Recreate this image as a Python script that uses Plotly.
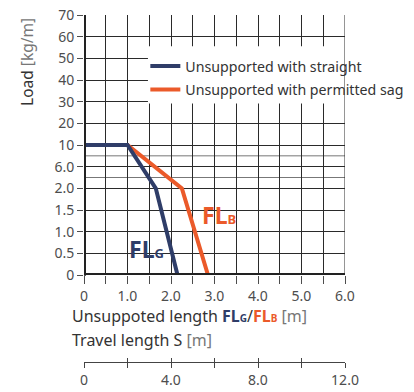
import plotly.graph_objects as go

NAVY = "#2f3d68"
ORANGE = "#eb5a2a"
GRID = "#2a2a2a"
TICK = "#4d4d4d"
TEXT = "#333333"
FONT = "Noto Sans"

# load categories (bottom to top), evenly spaced on the chart
load_cats = ["0", "0.5", "1.0", "1.5", "2.0", "6.0", "10", "20", "30", "40", "50", "60", "70"]

# unsupported length [m] vs load
straight_len = [0, 1.0, 1.65, 2.15]
straight_load = ["10", "10", "2.0", "0"]
sag_len = [0, 1.0, 2.25, 2.85]
sag_load = ["10", "10", "2.0", "0"]

len_ticks = [0, 0.5, 1.0, 1.5, 2.0, 2.5, 3.0, 3.5, 4.0, 4.5, 5.0, 5.5, 6.0]
len_labels = ["0", "", "1.0", "", "2.0", "", "3.0", "", "4.0", "", "5.0", "", "6.0"]
travel_ticks = [0, 2, 4, 6, 8, 10, 12]
travel_labels = ["0", "", "4.0", "", "8.0", "", "12.0"]

fig = go.Figure()
fig.add_trace(go.Scatter(x=sag_len, y=sag_load, mode="lines", name="Unsupported with permitted sag",
                         line=dict(color=ORANGE, width=4), legendrank=2, legendgroup="b"))
fig.add_trace(go.Scatter(x=straight_len, y=straight_load, mode="lines", name="Unsupported with straight",
                         line=dict(color=NAVY, width=4), legendrank=1, legendgroup="a"))
# invisible traces so the travel-length axes render
fig.add_trace(go.Scatter(x=[0, 12], y=[0, 0], xaxis="x2", yaxis="y2", mode="none",
                         showlegend=False, hoverinfo="skip"))
fig.add_trace(go.Scatter(x=[0, 12], y=[0, 0], xaxis="x3", yaxis="y2", mode="none",
                         showlegend=False, hoverinfo="skip"))

fig.update_layout(
    width=414, height=392,
    margin=dict(l=84, r=69, t=15, b=30, autoexpand=False),
    paper_bgcolor="white", plot_bgcolor="white",
    font=dict(family=FONT, color=TICK, size=14),
    showlegend=True,
    legend=dict(x=0.235, y=0.898, xanchor="left", yanchor="top", bgcolor="rgba(0,0,0,0)",
                font=dict(size=14.2, color=TEXT), traceorder="grouped", tracegroupgap=2,
                itemwidth=30),
    xaxis=dict(range=[0, 6], tickvals=len_ticks, ticktext=len_labels, showgrid=True,
               gridcolor=GRID, gridwidth=1, zeroline=False, showline=False, anchor="y",
               ticks="outside", ticklen=8, tickcolor=TICK, tickfont=dict(size=14, color=TICK)),
    yaxis=dict(type="category", categoryorder="array", categoryarray=load_cats,
               range=[0, 12], domain=[0.2507, 1], showgrid=True, gridcolor=GRID, gridwidth=1,
               showline=False, ticks="outside", ticklen=6, tickcolor=TICK,
               tickfont=dict(size=14, color=TICK)),
    yaxis2=dict(domain=[0, 0.01], range=[0, 1], visible=False),
    xaxis2=dict(anchor="y2", domain=[0, 1], range=[0, 12],
                tickvals=travel_ticks, ticktext=travel_labels, showgrid=False, zeroline=False,
                showline=True, linecolor="#444", linewidth=1, ticks="outside", ticklen=5,
                tickcolor="#444", tickfont=dict(size=14, color=TICK)),
    xaxis3=dict(anchor="y2", overlaying="x2", range=[0, 12],
                tickvals=travel_ticks, showticklabels=False, showgrid=False, zeroline=False,
                showline=False, ticks="inside", ticklen=4, tickcolor="#444"),
)

# half-step grid lines between 10 and 2.0
for yv in (4.5, 5.5):
    fig.add_shape(type="line", xref="x", yref="y", x0=0, x1=6, y0=yv, y1=yv,
                  line=dict(color="#777", width=1), layer="below")
# white box behind legend
fig.add_shape(type="rect", xref="paper", yref="paper", x0=0.245, x1=1.0, y0=0.745, y1=0.91,
              fillcolor="white", line=dict(width=0), layer="above")
# frame
fig.add_shape(type="line", xref="x", yref="y domain", x0=6, x1=6, y0=0, y1=1,
              line=dict(color=GRID, width=1), layer="above")
fig.add_shape(type="line", xref="x", yref="y domain", x0=0, x1=0, y0=-0.003, y1=1,
              line=dict(color="#222", width=4), layer="above")
fig.add_shape(type="line", xref="x", yref="y", x0=-0.04, x1=6, y0=0, y1=0,
              line=dict(color="#222", width=4), layer="above")

fig.add_annotation(x=1.43, y=1.2, xref="x", yref="y", showarrow=False,
                   text="<b>FL<span style='font-size:13px'>G</span></b>",
                   font=dict(size=23, color=NAVY, family=FONT))
fig.add_annotation(x=3.1, y=2.75, xref="x", yref="y", showarrow=False,
                   text="<b>FL<span style='font-size:13px'>B</span></b>",
                   font=dict(size=23, color=ORANGE, family=FONT))

fig.add_annotation(x=-0.054, y=0.1326, xref="paper", yref="paper", xanchor="left", yanchor="middle",
                   showarrow=False, font=dict(size=16, color=TEXT, family=FONT),
                   text=(f"Unsuppoted length <b><span style='color:{NAVY}'>FL</span>"
                         f"<span style='color:{NAVY};font-size:10px'>G</span></b>/"
                         f"<b><span style='color:{ORANGE}'>FL</span>"
                         f"<span style='color:{ORANGE};font-size:10px'>B</span></b> "
                         f"<span style='color:#777'>[m]</span>"))
fig.add_annotation(x=-0.054, y=0.0634, xref="paper", yref="paper", xanchor="left", yanchor="middle",
                   showarrow=False, font=dict(size=16, color=TEXT, family=FONT),
                   text="Travel length S <span style='color:#777'>[m]</span>")
fig.add_annotation(x=-0.218, y=0.865, xref="paper", yref="paper", textangle=-90,
                   xanchor="center", yanchor="middle",
                   showarrow=False, font=dict(size=15.5, color=TEXT, family=FONT),
                   text="Load <span style='color:#777'>[kg/m]</span>")

fig.write_html("out.html", config={"displayModeBar": False},
               post_script="document.body.style.margin='0';")
